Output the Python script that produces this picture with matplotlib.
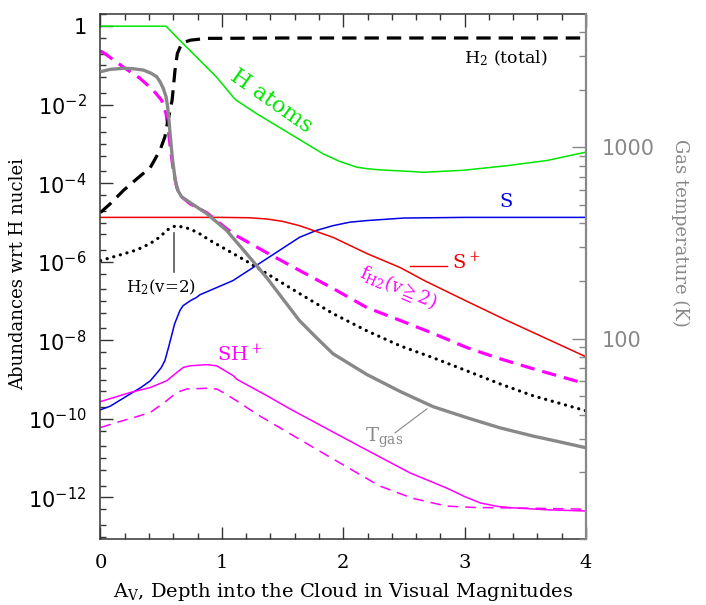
import math
import matplotlib
matplotlib.use("Agg")
import matplotlib.pyplot as plt
from matplotlib.ticker import FixedLocator, LogLocator, FuncFormatter, MultipleLocator, NullFormatter

# ---------------- data ----------------
h_atoms_x = [0, 0.54, 0.655, 0.82, 0.957, 1.094, 1.12, 1.287, 1.561, 1.835, 1.97, 2.11, 2.2, 2.30,
             2.55, 2.66, 2.99, 3.35, 3.68, 4.0]
h_atoms_y = [1.0, 1.0, 0.43, 0.133, 0.050, 0.0155, 0.0129, 5.9e-3, 1.82e-3, 5.6e-4, 3.6e-4, 2.57e-4,
             2.34e-4, 2.19e-4, 2.0e-4, 1.9e-4, 2.14e-4, 2.8e-4, 3.8e-4, 6.2e-4]

h2_tot_x = [0, 0.08, 0.19, 0.30, 0.41, 0.49, 0.53, 0.556, 0.59, 0.614, 0.633, 0.67, 0.74, 0.88, 1.01,
            1.5, 4.0]
h2_tot_y = [1.8e-5, 3.0e-5, 6.6e-5, 1.3e-4, 2.5e-4, 6.9e-4, 1.5e-3, 4.0e-3, 1.3e-2, 7.6e-2, 0.20, 0.37,
            0.44, 0.49, 0.49, 0.5, 0.5]

fh2_x = [0, 0.036, 0.188, 0.325, 0.435, 0.504, 0.54, 0.559, 0.578, 0.6, 0.628, 0.669, 0.737, 0.875,
         1.09, 1.37, 1.64, 1.915, 2.195, 2.47, 2.74, 3.02, 3.29, 3.56, 4.0]
fh2_y = [0.234, 0.20, 0.091, 0.047, 0.0234, 0.0129, 5.9e-3, 2.24e-3, 6.9e-4, 2.14e-4, 7.9e-5, 4.5e-5,
         3.0e-5, 1.78e-5, 5.2e-6, 1.7e-6, 6.0e-7, 2.1e-7, 6.8e-8, 3.2e-8, 1.5e-8, 6.5e-9, 3.4e-9,
         1.9e-9, 7.8e-10]

h2v2_x = [0, 0.188, 0.298, 0.408, 0.49, 0.545, 0.586, 0.628, 0.737, 0.82, 0.902, 1.07, 1.2, 1.37,
          1.64, 1.915, 2.195, 2.47, 2.74, 3.02, 3.29, 3.56, 4.0]
h2v2_y = [1.07e-6, 1.58e-6, 2.0e-6, 2.9e-6, 4.3e-6, 6.3e-6, 7.6e-6, 8.3e-6, 6.9e-6, 5.1e-6, 3.5e-6,
          1.78e-6, 1.05e-6, 5.0e-7, 1.55e-7, 4.8e-8, 1.74e-8, 7.2e-9, 3.6e-9, 1.66e-9, 7.8e-10,
          3.9e-10, 1.6e-10]

s_x = [0, 0.08, 0.25, 0.33, 0.41, 0.46, 0.5, 0.53, 0.56, 0.59, 0.61, 0.655, 0.68, 0.74, 0.79, 0.82,
       1.09, 1.37, 1.64, 1.78, 1.915, 2.055, 2.195, 2.5, 3.0, 4.0]
s_y = [1.7e-10, 2.1e-10, 4.4e-10, 6.2e-10, 9.3e-10, 1.41e-9, 2.0e-9, 3.0e-9, 6.5e-9, 1.48e-8, 2.6e-8,
       5.8e-8, 7.6e-8, 1.02e-7, 1.23e-7, 1.45e-7, 3.3e-7, 1.2e-6, 4.2e-6, 6.3e-6, 8.3e-6, 1.02e-5,
       1.12e-5, 1.3e-5, 1.35e-5, 1.35e-5]

splus_x = [0, 1.0, 1.23, 1.37, 1.5, 1.64, 1.915, 2.195, 2.47, 2.67, 3.0, 3.33, 3.67, 4.0]
splus_y = [1.35e-5, 1.35e-5, 1.32e-5, 1.23e-5, 1.07e-5, 8.3e-6, 4.2e-6, 1.62e-6, 7.1e-7, 3.3e-7,
           1.05e-7, 3.4e-8, 1.12e-8, 3.8e-9]

shp_x = [0, 0.247, 0.412, 0.545, 0.628, 0.682, 0.737, 0.875, 0.957, 1.04, 1.094, 1.122, 1.37, 1.56,
         2.11, 2.55, 2.85, 3.0, 3.13, 3.27, 3.4, 3.7, 4.0]
shp_y = [2.75e-10, 4.7e-10, 6.3e-10, 9.3e-10, 1.51e-9, 2.04e-9, 2.24e-9, 2.4e-9, 2.24e-9, 1.58e-9,
         1.26e-9, 1.02e-9, 3.9e-10, 1.8e-10, 2.2e-11, 4.2e-12, 1.74e-12, 1.05e-12, 7.2e-13, 5.9e-13,
         5.4e-13, 4.8e-13, 4.5e-13]

shp2_x = [0, 0.133, 0.27, 0.41, 0.545, 0.628, 0.71, 0.875, 0.957, 1.01, 1.12, 1.287, 1.84, 2.30, 2.57,
          2.85, 3.1, 3.4, 4.0]
shp2_y = [6.0e-11, 8.1e-11, 1.07e-10, 1.45e-10, 2.9e-10, 4.7e-10, 5.75e-10, 6.0e-10, 5.75e-10, 4.7e-10,
          2.9e-10, 1.32e-10, 1.3e-11, 1.95e-12, 9.5e-13, 6.0e-13, 5.5e-13, 5.4e-13, 5.0e-13]

tgas_x = [0, 0.078, 0.188, 0.27, 0.353, 0.42, 0.463, 0.49, 0.517, 0.54, 0.553, 0.564, 0.573, 0.594,
          0.616, 0.636, 0.669, 0.71, 0.875, 1.04, 1.205, 1.37, 1.50, 1.64, 1.78, 1.915, 2.195, 2.47,
          2.74, 3.02, 3.29, 3.56, 3.78, 4.0]
tgas_T = [2480, 2550, 2585, 2570, 2530, 2430, 2335, 2200, 2030, 1835, 1625, 1385, 1180, 855, 672, 596,
          550, 528, 450, 367, 277, 208, 162, 124, 101, 83.4, 64.9, 52.9, 44.1, 38.6, 34.2, 31.0, 28.9,
          26.9]

left_major = [1e-12, 1e-10, 1e-8, 1e-6, 1e-4, 1e-2, 1]
right_major = [100, 1000]
x_major = [0, 1, 2, 3, 4]

# ---------------- style ----------------
GREEN = "#00e600"
BLUE = "#0000e6"
RED = "#f00000"
MAG = "#ff00ff"
GRAY = "#888888"
SERIF = ["DejaVu Serif"]

W, H = 706, 605
fig = plt.figure(figsize=(W / 100, H / 100), dpi=100)
L, R, B, T = 100.5 / W, 586 / W, 1 - 539 / H, 1 - 14 / H
ax = fig.add_axes([L, B, R - L, T - B])
ax.set_xlim(0, 4)
ax.set_yscale("log")
ax.set_ylim(10 ** -13.06, 10 ** 0.31)

ax.plot(h_atoms_x, h_atoms_y, color=GREEN, lw=1.1)
ax.plot(s_x, s_y, color=BLUE, lw=1.1)
ax.plot(splus_x, splus_y, color=RED, lw=1.1)
ax.plot(shp_x, shp_y, color=MAG, lw=1.1)
ax.plot(shp2_x, shp2_y, color=MAG, lw=1.1, dashes=(7, 4.5))
ax.plot(h2v2_x, h2v2_y, color="black", lw=2.3, dashes=(0.05, 2.1), dash_capstyle="round")
ax.plot(fh2_x, fh2_y, color=MAG, lw=2.3, dashes=(4.5, 2.5))
ax.plot(h2_tot_x, h2_tot_y, color="black", lw=2.3, dashes=(4.5, 2.5))

# left axis ticks
ax.yaxis.set_major_locator(FixedLocator(left_major))
ax.yaxis.set_minor_locator(LogLocator(base=10, subs=(1.0, 2.0, 5.0), numticks=60))
ax.yaxis.set_minor_formatter(NullFormatter())


def lfmt(v, pos):
    if abs(v - 1) < 1e-9:
        return "1"
    e = int(round(math.log10(v)))
    return r"$10^{%d}$" % e


ax.yaxis.set_major_formatter(FuncFormatter(lfmt))
ax.xaxis.set_major_locator(FixedLocator(x_major))
ax.xaxis.set_minor_locator(MultipleLocator(0.2))
ax.tick_params(axis="both", which="both", direction="in", top=True, right=False, color="#333333")
ax.tick_params(axis="both", which="major", length=9, width=1.0)
ax.tick_params(axis="both", which="minor", length=4.5, width=1.0)
ax.tick_params(axis="y", which="major", labelsize=15, pad=10)
ax.tick_params(axis="x", which="major", labelsize=14, pad=11)
for lab in ax.get_xticklabels():
    lab.set_family(SERIF)
for sp in ["left", "bottom", "top"]:
    ax.spines[sp].set_color("#333333")
    ax.spines[sp].set_linewidth(1.1)
ax.spines["right"].set_visible(False)

# right axis (gas temperature)
ax2 = ax.twinx()
ax2.set_yscale("log")
ax2.set_ylim(10 ** 0.953, 10 ** 3.696)
ax2.plot(tgas_x, tgas_T, color=GRAY, lw=2.4, solid_capstyle="butt", solid_joinstyle="round")
ax2.yaxis.set_major_locator(FixedLocator(right_major))
ax2.yaxis.set_minor_locator(LogLocator(base=10, subs=tuple(range(2, 10)), numticks=20))
ax2.yaxis.set_minor_formatter(NullFormatter())
ax2.yaxis.set_major_formatter(FuncFormatter(lambda v, p: "%d" % v))
ax2.tick_params(axis="y", which="both", direction="in", color=GRAY, labelcolor=GRAY)
ax2.tick_params(axis="y", which="major", length=10, width=1.0, labelsize=15, pad=11)
ax2.tick_params(axis="y", which="minor", length=5, width=1.0)
for sp in ["left", "bottom", "top"]:
    ax2.spines[sp].set_visible(False)
ax2.spines["right"].set_color(GRAY)
ax2.spines["right"].set_linewidth(1.6)


# ---------------- annotations ----------------
def px2data(px, py):
    return (px - 100.5) / 121.4, 10 ** (-(py - 26) / 39.2)


def ptext(px, py, s, color, size, rot=0):
    x, y = px2data(px, py)
    ax.text(x, y, s, color=color, fontsize=size, rotation=rot, ha="center", va="center",
            family=SERIF, math_fontfamily="dejavuserif", rotation_mode="anchor", zorder=5)


ptext(271, 101, "H atoms", GREEN, 16, -35)
ptext(506, 58, r"H$_2$ (total)", "black", 12.5)
ptext(506, 202, "S", BLUE, 14)
ptext(466, 262, r"S$^+$", RED, 14)
ptext(398, 287, r"f$_{\mathrm{H2}}$(v$\geqq$2)", MAG, 13, -23)
ptext(161, 287, r"H$_2$(v=2)", "black", 12)
ptext(240, 353, r"SH$^+$", MAG, 14)
ptext(384, 437, r"T$_{\mathrm{gas}}$", GRAY, 14)

# leader lines
x1, y1 = px2data(410, 265)
x2, y2 = px2data(447, 265)
ax.plot([x1, x2], [y1, y2], color=RED, lw=1.0)
x1, y1 = px2data(174, 232)
x2, y2 = px2data(174, 271)
ax.plot([x1, x2], [y1, y2], color="#555555", lw=1.2)
x1, y1 = px2data(395, 432)
x2, y2 = px2data(427, 408)
ax.plot([x1, x2], [y1, y2], color=GRAY, lw=0.8)

# axis labels
fig.text(18 / W, 1 - 274 / H, "Abundances wrt H nuclei", rotation=90, ha="center", va="center",
         fontsize=13, family=SERIF)
fig.text(680 / W, 1 - 233 / H, "Gas temperature (K)", rotation=270, ha="center", va="center",
         fontsize=13, family=SERIF, color=GRAY)
fig.text(343 / W, 1 - 597 / H, r"A$_\mathrm{V}$, Depth into the Cloud in Visual Magnitudes",
         ha="center", va="baseline", fontsize=14, family=SERIF, math_fontfamily="dejavuserif")

fig.savefig("out.png", dpi=100)
